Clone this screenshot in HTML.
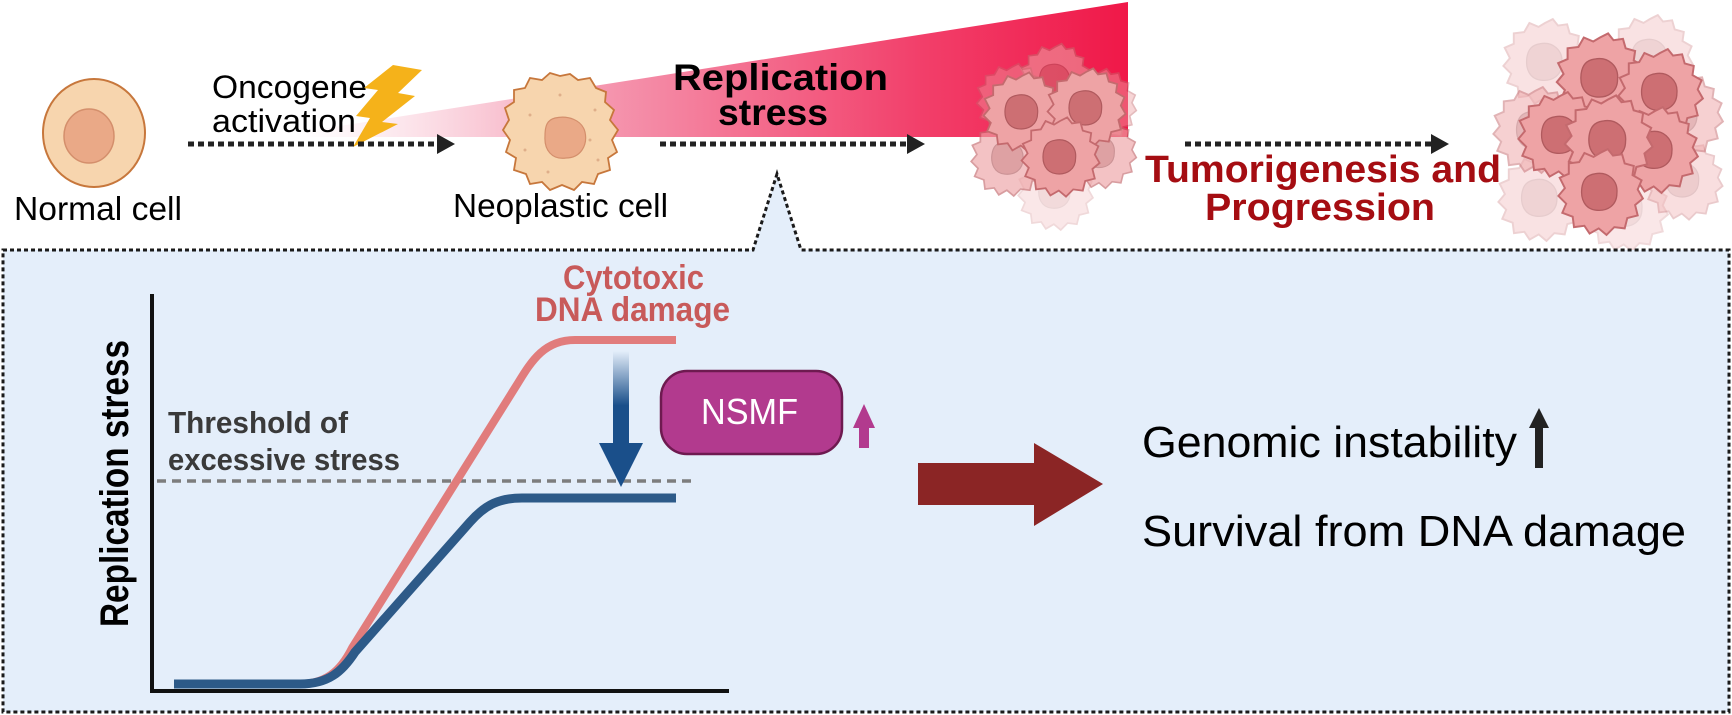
<!DOCTYPE html>
<html><head><meta charset="utf-8"><style>
html,body{margin:0;padding:0;background:#fff;}
svg{display:block;}
text{font-family:"Liberation Sans",Arial,sans-serif;}
</style></head><body>
<svg width="1732" height="715" viewBox="0 0 1732 715" xmlns="http://www.w3.org/2000/svg">
<defs>
<linearGradient id="wedge" x1="300" y1="0" x2="1128" y2="0" gradientUnits="userSpaceOnUse">
<stop offset="0" stop-color="#f8c8d6" stop-opacity="0"/>
<stop offset="0.35" stop-color="#f59ab2"/>
<stop offset="0.75" stop-color="#f23f6a"/>
<stop offset="1" stop-color="#f01848"/>
</linearGradient>
<linearGradient id="bluearr" x1="0" y1="351" x2="0" y2="487" gradientUnits="userSpaceOnUse">
<stop offset="0" stop-color="#1a4f8a" stop-opacity="0"/>
<stop offset="0.4" stop-color="#1a4f8a"/>
<stop offset="1" stop-color="#1a4f8a"/>
</linearGradient>
<g id="tcell">
<path d="M0,-30 L6,-33 L10,-28 L17,-29 L19,-22 L26,-20 L25,-13 L32,-9 L29,-2 L33,5 L27,10 L29,18 L21,20 L19,28 L11,27 L5,33 L-1,28 L-8,32 L-12,26 L-20,27 L-21,19 L-29,16 L-26,9 L-32,3 L-27,-3 L-31,-11 L-24,-14 L-24,-22 L-16,-23 L-12,-30 L-5,-27 Z" fill="#eea3a5" stroke="#c46a6e" stroke-width="1.5"/>
<path d="M-4,-14 C6,-16 14,-9 13,1 C13,10 6,15 -3,14 C-12,13 -15,5 -14,-3 C-13,-10 -10,-13 -4,-14 Z" fill="#cd6f73" stroke="#b05a5e" stroke-width="1"/>
</g>
</defs>

<polygon points="270,137 1128,2 1128,137" fill="url(#wedge)"/>

<ellipse cx="94" cy="133" rx="51" ry="54" fill="#f7d5ae" stroke="#c7773c" stroke-width="2"/>
<ellipse cx="89" cy="136" rx="25" ry="27" fill="#eaa987" stroke="#d48f6c" stroke-width="1.5"/>
<text x="14" y="220" font-size="33" textLength="168" lengthAdjust="spacingAndGlyphs">Normal cell</text>

<text x="212" y="98" font-size="32" textLength="155" lengthAdjust="spacingAndGlyphs">Oncogene</text>
<text x="212" y="132" font-size="32" textLength="144" lengthAdjust="spacingAndGlyphs">activation</text>
<polygon points="393,65 422,70 398,93 415,96 382,122 398,124 353,147 370,118 356,116 378,90 364,88" fill="#f5b21a"/>

<g stroke="#222" stroke-width="5" stroke-dasharray="6,4" fill="none">
<line x1="188" y1="144" x2="440" y2="144"/>
<line x1="660" y1="144" x2="910" y2="144"/>
<line x1="1185" y1="144" x2="1434" y2="144"/>
</g>
<polygon points="437,134 455,144 437,154" fill="#222"/>
<polygon points="907,134 925,144 907,154" fill="#222"/>
<polygon points="1431,134 1449,144 1431,154" fill="#222"/>

<path d="M560,76 L570,74 L578,80 L590,78 L596,88 L606,92 L605,102 L614,110 L610,120 L618,130 L612,140 L617,152 L608,158 L610,170 L598,174 L594,184 L582,182 L574,190 L562,185 L550,190 L542,182 L530,184 L526,174 L514,170 L516,158 L506,152 L510,140 L503,130 L509,120 L505,108 L514,102 L514,90 L525,88 L530,78 L542,80 L550,73 Z" fill="#f7d5ae" stroke="#c7773c" stroke-width="1.8"/>
<path d="M555,118 C568,115 582,120 585,132 C588,146 580,158 566,158 C552,160 544,150 545,136 C545,126 547,120 555,118 Z" fill="#eaa987" stroke="#d48f6c" stroke-width="1.2"/>
<g fill="#dfae8a"><circle cx="530" cy="115" r="1.5"/><circle cx="595" cy="110" r="1.5"/><circle cx="525" cy="150" r="1.5"/><circle cx="598" cy="160" r="1.5"/><circle cx="560" cy="95" r="1.5"/><circle cx="548" cy="172" r="1.5"/><circle cx="590" cy="140" r="1.5"/></g>
<text x="453" y="217" font-size="33" textLength="215" lengthAdjust="spacingAndGlyphs">Neoplastic cell</text>

<text x="673" y="90" font-size="37" font-weight="bold" textLength="215" lengthAdjust="spacingAndGlyphs">Replication</text>
<text x="718" y="125" font-size="37" font-weight="bold" textLength="110" lengthAdjust="spacingAndGlyphs">stress</text>

<g>
<use href="#tcell" transform="translate(1055,192) scale(1.15)" opacity="0.25"/>
<use href="#tcell" transform="translate(1055,80) scale(1.1)" opacity="0.55"/>
<use href="#tcell" transform="translate(1012,100) scale(1.1)" opacity="0.4"/>
<use href="#tcell" transform="translate(1100,105) scale(1.1)" opacity="0.45"/>
<use href="#tcell" transform="translate(1008,158) scale(1.15)" opacity="0.65"/>
<use href="#tcell" transform="translate(1100,152) scale(1.1)" opacity="0.65"/>
<use href="#tcell" transform="translate(1022,112) scale(1.2)"/>
<use href="#tcell" transform="translate(1086,108) scale(1.2)"/>
<use href="#tcell" transform="translate(1060,157) scale(1.2)"/>
</g>

<text x="1145" y="182" font-size="38" font-weight="bold" fill="#a50d12" textLength="356" lengthAdjust="spacingAndGlyphs">Tumorigenesis and</text>
<text x="1205" y="220" font-size="38" font-weight="bold" fill="#a50d12" textLength="230" lengthAdjust="spacingAndGlyphs">Progression</text>

<g>
<use href="#tcell" transform="translate(1545,62) scale(1.3)" opacity="0.3"/>
<use href="#tcell" transform="translate(1650,58) scale(1.3)" opacity="0.3"/>
<use href="#tcell" transform="translate(1540,198) scale(1.3)" opacity="0.3"/>
<use href="#tcell" transform="translate(1625,208) scale(1.3)" opacity="0.25"/>
<use href="#tcell" transform="translate(1683,180) scale(1.2)" opacity="0.35"/>
<use href="#tcell" transform="translate(1535,130) scale(1.3)" opacity="0.5"/>
<use href="#tcell" transform="translate(1680,115) scale(1.3)" opacity="0.5"/>
<use href="#tcell" transform="translate(1600,78) scale(1.35)"/>
<use href="#tcell" transform="translate(1660,92) scale(1.3)"/>
<use href="#tcell" transform="translate(1560,135) scale(1.3)"/>
<use href="#tcell" transform="translate(1655,150) scale(1.3)"/>
<use href="#tcell" transform="translate(1608,140) scale(1.35)"/>
<use href="#tcell" transform="translate(1600,192) scale(1.3)"/>
</g>

<path d="M3,250 L753,250 L777,174 L801,250 L1729,250 L1729,712 L3,712 Z" fill="#e4eefa" stroke="#1a1a1a" stroke-width="3" stroke-dasharray="4,3"/>

<line x1="152" y1="294" x2="152" y2="693" stroke="#111" stroke-width="4"/>
<line x1="150" y1="691" x2="729" y2="691" stroke="#111" stroke-width="4"/>
<text transform="translate(128,627) rotate(-90)" font-size="40" font-weight="bold" textLength="287" lengthAdjust="spacingAndGlyphs">Replication stress</text>

<text x="168" y="433" font-size="31" font-weight="bold" fill="#3a3a3a" textLength="180" lengthAdjust="spacingAndGlyphs">Threshold of</text>
<text x="168" y="470" font-size="31" font-weight="bold" fill="#3a3a3a" textLength="232" lengthAdjust="spacingAndGlyphs">excessive stress</text>
<line x1="157" y1="481" x2="693" y2="481" stroke="#7d7d7d" stroke-width="3.5" stroke-dasharray="9,6"/>

<path d="M174,684 L298,684 C325,684 340,672 352,648 L518,383 C532,360 545,340 575,340 L676,340" fill="none" stroke="#e17c7c" stroke-width="8"/>
<path d="M174,684 L300,684 C328,684 342,672 355,652 L470,522 C486,504 500,498 522,498 L676,498" fill="none" stroke="#2d5a88" stroke-width="9"/>

<text x="563" y="289" font-size="34" font-weight="bold" fill="#c85a5a" textLength="141" lengthAdjust="spacingAndGlyphs">Cytotoxic</text>
<text x="535" y="321" font-size="34" font-weight="bold" fill="#c85a5a" textLength="195" lengthAdjust="spacingAndGlyphs">DNA damage</text>

<polygon points="613,351 629,351 629,443 643,443 621,487 599,443 613,443" fill="url(#bluearr)"/>

<rect x="661" y="371" width="181" height="83" rx="26" fill="#b23a8e" stroke="#6e1a50" stroke-width="2.5"/>
<text x="701" y="424" font-size="36" fill="#fff" textLength="97" lengthAdjust="spacingAndGlyphs">NSMF</text>
<polygon points="864,404 875,428 869,428 869,448 859,448 859,428 853,428" fill="#b23a8e"/>

<polygon points="918,463 1034,463 1034,443 1103,484 1034,526 1034,505 918,505" fill="#8b2525"/>

<text x="1142" y="457" font-size="44" textLength="375" lengthAdjust="spacingAndGlyphs">Genomic instability</text>
<polygon points="1539,408 1549,428 1543,428 1543,468 1535,468 1535,428 1529,428" fill="#222"/>
<text x="1142" y="546" font-size="44" textLength="544" lengthAdjust="spacingAndGlyphs">Survival from DNA damage</text>
</svg>
</body></html>
